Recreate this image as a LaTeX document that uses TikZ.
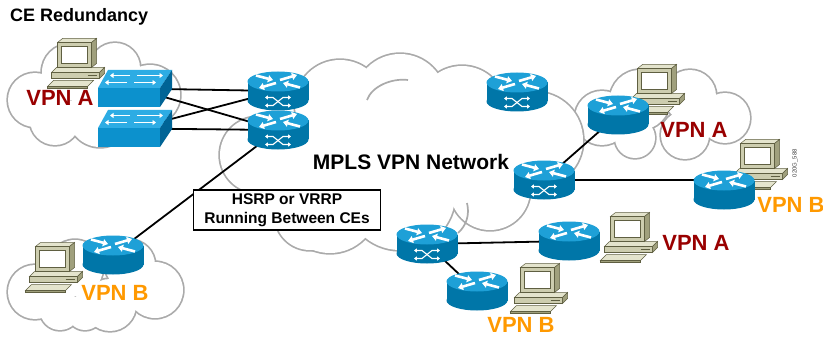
\documentclass[tikz,border=0pt]{standalone}
\usepackage{fontspec}
\setmainfont{Liberation Sans}
\usetikzlibrary{arrows.meta, backgrounds}
\definecolor{colRtTop}{RGB}{30,160,215}
\definecolor{colRtSide}{RGB}{0,118,168}
\definecolor{colSwTop}{RGB}{45,172,228}
\definecolor{colSwFront}{RGB}{12,145,205}
\definecolor{colSwSide}{RGB}{0,100,150}
\definecolor{colPcFront}{RGB}{205,205,175}
\definecolor{colPcTop}{RGB}{228,228,205}
\definecolor{colPcSide}{RGB}{160,160,125}
\definecolor{colPcLine}{RGB}{95,95,65}
\definecolor{colCloud}{RGB}{170,170,170}
\definecolor{colVpnA}{RGB}{153,0,0}
\definecolor{colVpnB}{RGB}{255,153,0}
\tikzset{
    cloudline/.style={draw=colCloud, line width=3.4pt},
    link/.style={draw=black, line width=1.8pt},
    whitearrow/.style={white, line width=2.6pt, -{Triangle[length=5pt, width=7pt]}},
    swarrow/.style={white, line width=1.6pt, -{Triangle[length=3.5pt, width=5pt]}},
    flowarrow/.style={white, line width=1.1pt,
        {Triangle[length=2.8pt, width=4pt]}-{Triangle[length=2.8pt, width=4pt]}},
    iconedge/.style={draw=colPcLine, line width=0.5pt},
    router spot/.style={inner sep=0, minimum width=61pt, minimum height=39pt},
    pe router spot/.style={router spot},
    switch spot/.style={inner sep=0, minimum width=74pt, minimum height=37pt},
    host spot/.style={inner sep=0, minimum width=57pt, minimum height=50pt},
    vpnA/.style={font=\bfseries\fontsize{22}{24}\selectfont, text=colVpnA, inner sep=0},
    vpnB/.style={font=\bfseries\fontsize{22}{24}\selectfont, text=colVpnB, inner sep=0},
    router/.pic={
        \fill[colRtSide] (-30.5,-9.5) rectangle (30.5,9.5);
        \fill[colRtSide] (0,9.5) ellipse[x radius=30.5pt, y radius=10pt];
        \fill[colRtTop] (0,-9.5) ellipse[x radius=30.5pt, y radius=10pt];
        \draw[whitearrow] (-22,-15.5) -- (-5,-11);
        \draw[whitearrow] (22,-3.5) -- (5,-8);
        \draw[whitearrow] (2,-11) -- (19,-16);
        \draw[whitearrow] (-2,-8) -- (-19,-3);
    },
    pe router/.pic={
        \pic at (0,0) {router};
        \draw[flowarrow] (-13,6.5) -- (-5,6.5) -- (5,14.5) -- (13,14.5);
        \draw[flowarrow] (-13,14.5) -- (-5,14.5) -- (5,6.5) -- (13,6.5);
    },
    switch/.pic={
        \fill[colSwFront] (-37,-0.5) rectangle (25,18.5);
        \fill[colSwTop] (-37,-0.5) -- (25,-0.5) -- (37,-18.5) -- (-27,-18.5) -- cycle;
        \fill[colSwSide] (25,-0.5) -- (37,-18.5) -- (37,0.5) -- (25,18.5) -- cycle;
        \draw[swarrow] (-5,-13) -- (-25,-13);
        \draw[swarrow] (2,-13) -- (28,-13);
        \draw[swarrow] (-8,-6) -- (-30,-6);
        \draw[swarrow] (-1,-6) -- (21,-6);
    },
    host/.pic={
        % base unit and keyboard
        \filldraw[iconedge, fill=colPcTop] (-25.5,10.5) -- (22.5,10.5) -- (27.5,5.5) -- (-20.5,5.5) -- cycle;
        \filldraw[iconedge, fill=colPcFront] (-25.5,10.5) rectangle (22.5,16.5);
        \filldraw[iconedge, fill=colPcSide] (22.5,10.5) -- (27.5,5.5) -- (27.5,11.5) -- (22.5,16.5) -- cycle;
        \draw[colPcLine, line width=0.9pt] (10.5,13.5) -- (19.5,13.5);
        \filldraw[iconedge, fill=colPcTop] (-29.5,24.5) -- (10.5,24.5) -- (16.5,18.5) -- (-23.5,18.5) -- cycle;
        \filldraw[iconedge, fill=colPcSide] (-29.5,24.5) rectangle (10.5,26.5);
        % monitor
        \filldraw[iconedge, fill=colPcTop] (-19.5,-19.5) -- (14.5,-19.5) -- (19.5,-23.5) -- (-14.5,-23.5) -- cycle;
        \filldraw[iconedge, fill=colPcSide] (14.5,-19.5) -- (19.5,-23.5) -- (19.5,1.5) -- (14.5,5.5) -- cycle;
        \filldraw[iconedge, fill=colPcFront] (-19.5,-19.5) rectangle (14.5,5.5);
        \filldraw[iconedge, fill=white] (-15.5,-15.5) rectangle (10.5,1.5);
    }
}
% icon plus an empty node of the same size to hang the links on
\newcommand{\device}[3]{%
    \pic at #3 {#1};
    \node[#1 spot] (#2) at #3 {};
}
% a cloud as the outline of a union of circles
\newcommand{\cloudpuffs}[1]{%
    \foreach \cx/\cy/\cr in {#1} \draw[cloudline] (\cx,\cy) circle[radius=\cr pt];
    \foreach \cx/\cy/\cr in {#1} \fill[white] (\cx,\cy) circle[radius=\cr pt];
}

\begin{document}
\begin{tikzpicture}[x=1pt, y=-1pt]

    \useasboundingbox (0,0) rectangle (823,337);

    \begin{scope}[on background layer]
        \fill[white] (0,0) rectangle (823,337);
        % site clouds
        \cloudpuffs{35/100/27, 70/72/28, 115/68/25, 150/95/30, 100/115/32, 55/120/25}
        \cloudpuffs{35/292/27, 75/268/28, 130/265/25, 155/290/28, 110/305/26, 60/310/20, 85/312/18}
        \cloudpuffs{602/118/27, 640/100/30, 690/96/26, 725/118/25, 685/135/24, 635/138/20}
        % provider cloud
        \cloudpuffs{258/155/38, 340/105/45, 400/100/46, 462/110/44, 535/140/48, 490/190/40,
            400/195/55, 330/205/48, 300/170/45, 420/150/60, 360/150/50, 490/150/40, 310/215/35}
        \draw[colCloud, line width=1.7pt] (367,100) .. controls (372,86) and (392,78) .. (408,80);
        \draw[colCloud, line width=1.7pt] (467,203) .. controls (470,215) and (466,226) .. (458,233);
    \end{scope}

    \node[font=\bfseries\fontsize{18}{20}\selectfont, anchor=base west, inner sep=0] (title) at (10,22) {CE Redundancy};

    % hosts
    \device{host}{hostA1}{(77,62)}
    \device{host}{hostA2}{(657,88)}
    \device{host}{hostB2}{(760,163)}
    \device{host}{hostA3}{(630,236)}
    \device{host}{hostB3}{(540,287)}
    \device{host}{hostB1}{(55,266)}

    % switches and routers
    \device{switch}{swA}{(135,88.5)}
    \device{switch}{swB}{(135,128.5)}
    \device{pe router}{ce1}{(278,91)}
    \device{pe router}{ce2}{(278,130)}
    \device{pe router}{pe1}{(517,92)}
    \device{pe router}{pe2}{(544,180)}
    \device{pe router}{pe3}{(427,244)}
    \device{router}{ceA2}{(618,115)}
    \device{router}{ceB2}{(724,190)}
    \device{router}{ceA3}{(569,241)}
    \device{router}{ceB3}{(477,291)}
    \device{router}{ceB1}{(113,255)}

    % labels
    \node[vpnA] (lblA1) at (60,98) {VPN A};
    \node[vpnA] (lblA2) at (694,130) {VPN A};
    \node[vpnA] (lblA3) at (696,243) {VPN A};
    \node[vpnB] (lblB1) at (115,293) {VPN B};
    \node[vpnB] (lblB2) at (791,205) {VPN B};
    \node[vpnB] (lblB3) at (521,325) {VPN B};
    \node[font=\bfseries\fontsize{21}{23}\selectfont, inner sep=0] (mpls) at (411,162) {MPLS VPN Network};
    \node[draw, line width=1.6pt, fill=white, minimum width=187pt, minimum height=40pt, inner sep=0,
        align=center, font=\bfseries\fontsize{15.5}{19}\selectfont] (hsrp) at (287,210)
        {HSRP or VRRP\\Running Between CEs};
    \node[rotate=90, font=\fontsize{6}{7}\selectfont, text=black!75, inner sep=0] (tag) at (795,163) {020G\_588};

    \begin{scope}[on background layer]
        \draw[link] (swA.center) -- (ce1.center);
        \draw[link] (swA.center) -- (ce2.center);
        \draw[link] (swB.center) -- (ce1.center);
        \draw[link] (swB.center) -- (ce2.center);
        \draw[link] (ce2.center) -- (ceB1.center);
        \draw[link] (pe2.center) -- (ceA2.center);
        \draw[link] (pe2.center) -- (pe2.center -| ceB2.center);
        \draw[link] (pe3.center) -- (ceA3.center);
        \draw[link] (pe3.center) -- (ceB3.center);
    \end{scope}

\end{tikzpicture}
\end{document}
